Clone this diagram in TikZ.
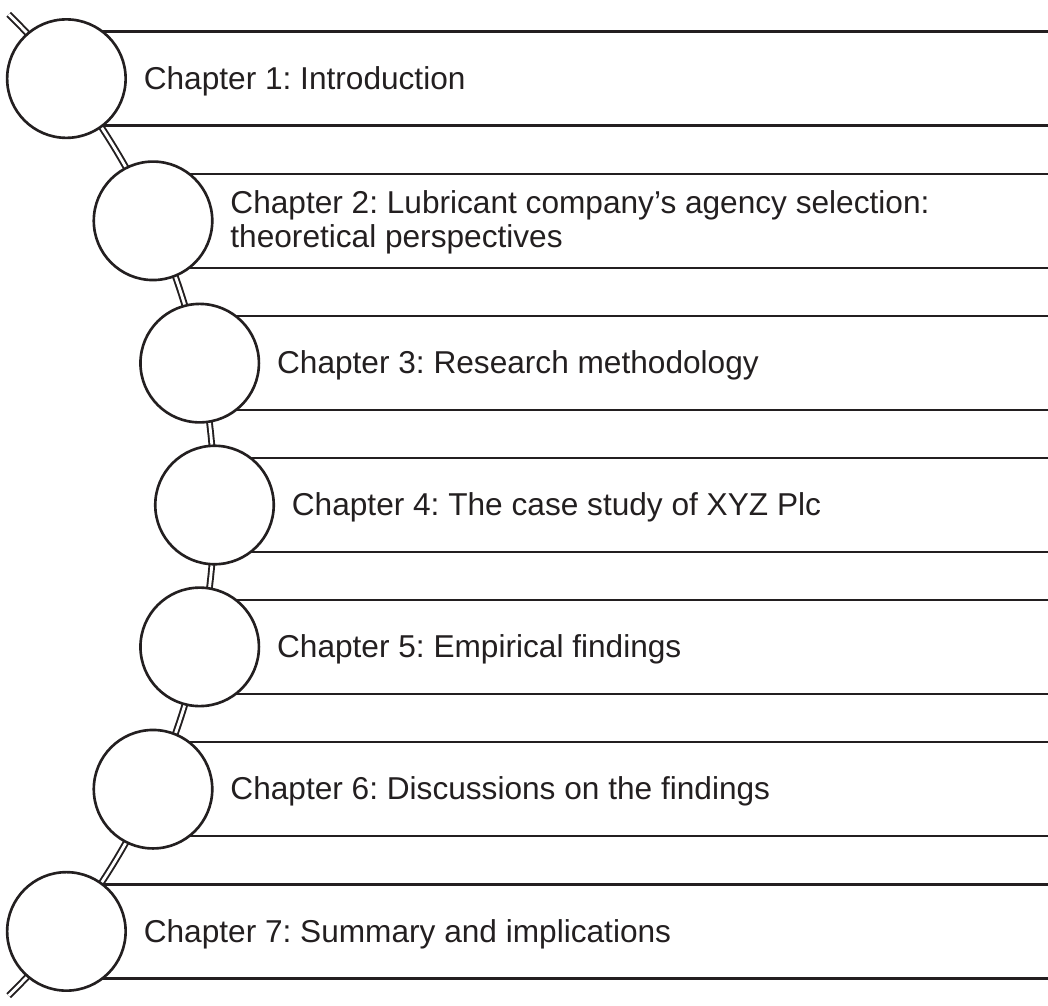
\documentclass[tikz,border=0pt]{standalone}
\usepackage{fontspec}
\setmainfont{Liberation Sans}
\usepackage{xcolor}
\usepackage{tikz}
\usetikzlibrary{calc,positioning}
\definecolor{ink}{HTML}{231F20}
\frenchspacing
\tikzset{
  spine/.style={draw=ink,double=white,line width=1.1pt,double distance=1.6pt},
  bar/.style={draw=ink,line width=1.4pt},
  chap/.style={circle,draw=ink,line width=1.5pt,fill=white,minimum size=2.37cm,
    inner sep=0pt},
  title/.style={anchor=base west,inner sep=0pt,text=ink,align=left,
    font=\fontsize{18}{19.4}\selectfont}
}

\begin{document}
\begin{tikzpicture}[x=0.02cm,y=-0.02cm]
\useasboundingbox (0,0) rectangle (1048,1005);
\coordinate (arcC) at (-473.5,505);
\coordinate (edge) at (1048,0);
% the curved spine behind the circles
\draw[spine] ($(arcC)+(-45.5:688)$) arc[start angle=-45.5,end angle=45.5,radius=688];
% bars first, then the circle on top
\foreach \i/\a in {1/-38.3,2/-24.4,3/-11.9,4/0,5/11.9,6/24.4,7/38.3}{
  \coordinate (p\i) at ($(arcC)+(\a:688)$);
  \draw[bar] ($(p\i)+(0,-47)$) coordinate (bt\i) -- (bt\i -| edge);
  \draw[bar] ($(p\i)+(0,47)$) coordinate (bb\i) -- (bb\i -| edge);
  \node[chap] (c\i) at (p\i) {};
}
\node[title] (lab1) at ($(c1.east)+(16.5,10.7)$) {Chapter 1: Introduction};
\node[title] (lab2) at ($(c2.east)+(16.5,26.3)$) {Chapter 2: Lubricant company’s agency selection:\\theoretical perspectives};
\node[title] (lab3) at ($(c3.east)+(16.5,10.7)$) {Chapter 3: Research methodology};
\node[title] (lab4) at ($(c4.east)+(16.5,10.7)$) {Chapter 4: The case study of XYZ Plc};
\node[title] (lab5) at ($(c5.east)+(16.5,10.7)$) {Chapter 5: Empirical findings};
\node[title] (lab6) at ($(c6.east)+(16.5,10.7)$) {Chapter 6: Discussions on the findings};
\node[title] (lab7) at ($(c7.east)+(16.5,10.7)$) {Chapter 7: Summary and implications};
\end{tikzpicture}
\end{document}
